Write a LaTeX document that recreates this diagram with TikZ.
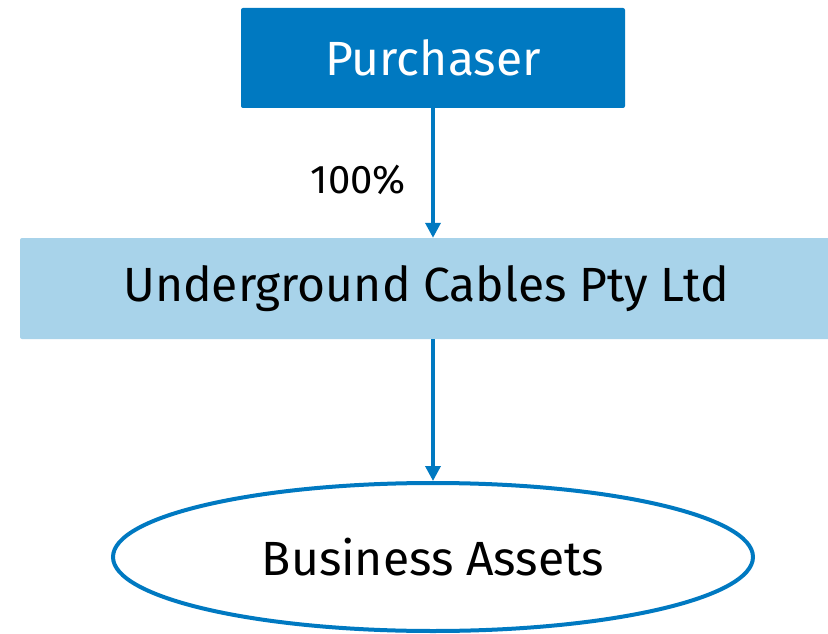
\documentclass[tikz,border=0pt]{standalone}
\usepackage{fontspec}
\setmainfont{Fira Sans}
\usetikzlibrary{arrows.meta,shapes.geometric}
\definecolor{dblue}{HTML}{0079C1}
\definecolor{lblue}{HTML}{A8D3EA}
\tikzset{
  darkbox/.style={fill=dblue, rounded corners=2pt, text=white, inner sep=0pt},
  lightbox/.style={fill=lblue, rounded corners=2pt, text=black, inner sep=0pt},
  assetell/.style={ellipse, draw=dblue, line width=4pt, inner sep=0pt},
  conn/.style={draw=dblue, line width=3.5pt, -{Triangle[width=15pt,length=15pt]}},
}
\begin{document}
\begin{tikzpicture}[x=1pt,y=-1pt]
\useasboundingbox (0,0) rectangle (828,634);
\clip (0,0) rectangle (828,634);
\node[darkbox, minimum width=384pt, minimum height=100pt] (p) at (433,58) {\fontsize{48}{56}\selectfont Purchaser};
\node[lightbox, minimum width=812pt, minimum height=101pt] (u) at (426,288.5) {\fontsize{48}{56}\selectfont Underground Cables Pty Ltd};
\node[assetell, minimum width=640pt, minimum height=148pt] (b) at (433,557) {\fontsize{48}{56}\selectfont Business Assets};
\draw[conn] (p.south -| 433,0) -- (u.north -| 433,0) node[pos=0.55, left=22pt, text=black] (lab) {\fontsize{40}{48}\selectfont\addfontfeatures{} 100\%};
\draw[conn] (u.south -| 433,0) -- (b.north);
\end{tikzpicture}
\end{document}
